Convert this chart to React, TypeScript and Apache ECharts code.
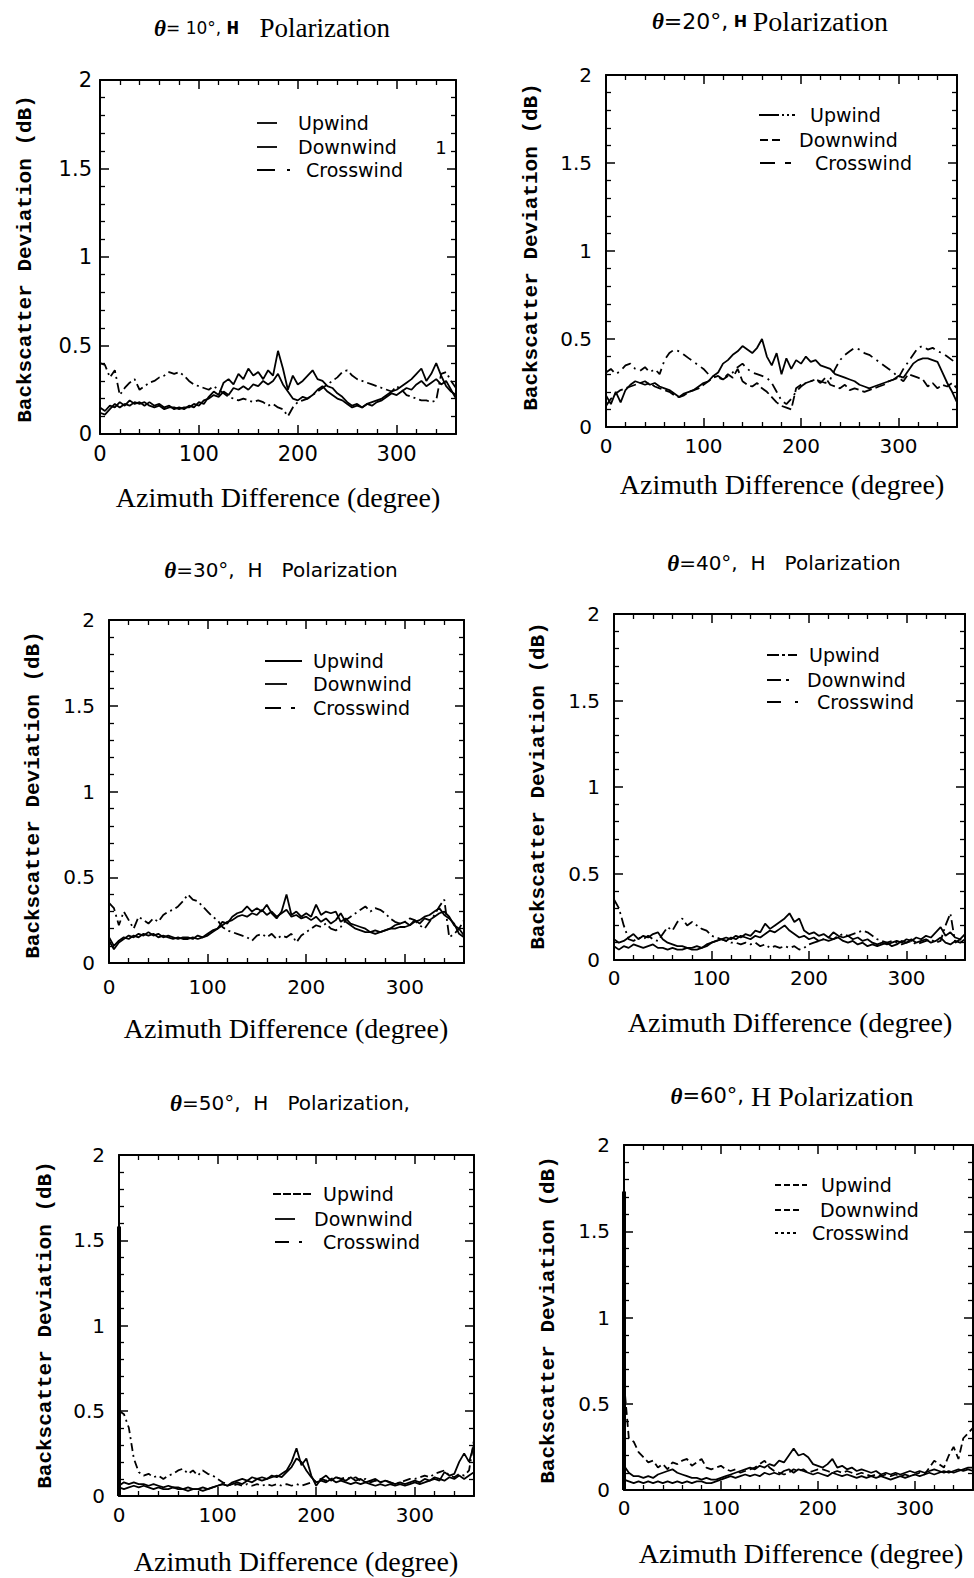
import React, { useEffect, useRef } from "react";
import * as echarts from "echarts";

// Azimuth difference grid (degree)
const AZ = [0,5,10,15,20,25,30,35,40,45,50,55,60,65,70,75,80,85,90,95,100,105,110,115,120,125,130,135,140,145,150,155,160,165,170,175,180,185,190,195,200,205,210,215,220,225,230,235,240,245,250,255,260,265,270,275,280,285,290,295,300,305,310,315,320,325,330,335,340,345,350,355,360];
const X_TICKS = [0, 100, 200, 300];
const Y_TICKS = [0, 0.5, 1, 1.5, 2];
const SERIES_NAMES = ["Upwind", "Downwind", "Crosswind"];

// theta = 10
const P1_UP = [0.15,0.13,0.16,0.15,0.18,0.16,0.19,0.17,0.18,0.16,0.18,0.16,
0.17,0.15,0.16,0.14,0.15,0.14,0.16,0.15,0.18,0.17,0.21,0.24,
0.22,0.29,0.31,0.28,0.34,0.31,0.37,0.33,0.35,0.31,0.36,0.33,
0.47,0.37,0.25,0.33,0.28,0.30,0.33,0.36,0.31,0.30,0.27,0.26,
0.23,0.21,0.18,0.16,0.17,0.15,0.17,0.18,0.19,0.20,0.22,0.24,
0.25,0.27,0.29,0.31,0.34,0.37,0.30,0.34,0.40,0.33,0.27,0.24,
0.22];
const P1_DOWN = [0.12,0.11,0.14,0.17,0.15,0.17,0.16,0.18,0.17,0.18,0.16,0.15,
0.16,0.14,0.15,0.15,0.14,0.15,0.15,0.17,0.16,0.19,0.20,0.22,
0.21,0.24,0.22,0.26,0.25,0.27,0.25,0.28,0.27,0.30,0.28,0.30,
0.34,0.28,0.24,0.20,0.19,0.21,0.20,0.22,0.25,0.27,0.24,0.22,
0.20,0.19,0.17,0.15,0.16,0.15,0.17,0.16,0.18,0.19,0.21,0.23,
0.22,0.24,0.26,0.25,0.28,0.30,0.27,0.29,0.31,0.28,0.30,0.25,
0.20];
const P1_CROSS = [0.40,0.39,0.32,0.36,0.22,0.26,0.29,0.31,0.25,0.27,0.29,0.30,
0.32,0.33,0.35,0.34,0.35,0.33,0.30,0.28,0.27,0.26,0.25,0.27,
0.25,0.23,0.21,0.20,0.19,0.20,0.19,0.18,0.19,0.18,0.16,0.17,
0.15,0.14,0.10,0.15,0.18,0.19,0.20,0.22,0.24,0.26,0.28,0.30,
0.32,0.35,0.36,0.33,0.31,0.30,0.29,0.28,0.27,0.26,0.25,0.24,
0.27,0.25,0.22,0.21,0.20,0.19,0.19,0.18,0.19,0.34,0.35,0.30,
0.26];

// theta = 20
const P2_UP = [0.18,0.13,0.20,0.14,0.21,0.24,0.26,0.25,0.26,0.24,0.25,0.23,
0.22,0.21,0.19,0.17,0.19,0.20,0.21,0.23,0.25,0.26,0.29,0.31,
0.36,0.38,0.41,0.43,0.46,0.44,0.42,0.45,0.50,0.40,0.35,0.42,
0.30,0.39,0.33,0.38,0.36,0.40,0.37,0.38,0.35,0.34,0.33,0.30,
0.29,0.28,0.27,0.26,0.24,0.23,0.22,0.23,0.24,0.25,0.26,0.27,
0.29,0.28,0.32,0.36,0.38,0.39,0.39,0.38,0.37,0.31,0.25,0.20,
0.14];
const P2_DOWN = [0.12,0.16,0.19,0.21,0.22,0.23,0.24,0.25,0.24,0.25,0.23,0.22,
0.21,0.20,0.18,0.17,0.18,0.20,0.21,0.22,0.24,0.26,0.28,0.29,
0.27,0.30,0.28,0.33,0.26,0.24,0.23,0.25,0.22,0.20,0.17,0.14,
0.12,0.11,0.10,0.22,0.24,0.25,0.26,0.27,0.25,0.28,0.24,0.23,
0.22,0.24,0.21,0.22,0.21,0.20,0.21,0.22,0.23,0.24,0.26,0.27,
0.28,0.26,0.30,0.29,0.28,0.27,0.23,0.25,0.22,0.24,0.23,0.25,
0.22];
const P2_CROSS = [0.31,0.33,0.30,0.32,0.35,0.36,0.33,0.32,0.34,0.31,0.33,0.30,
0.38,0.42,0.44,0.43,0.41,0.39,0.37,0.35,0.33,0.30,0.29,0.28,
0.27,0.29,0.31,0.34,0.36,0.33,0.31,0.30,0.29,0.28,0.25,0.20,
0.15,0.13,0.16,0.20,0.23,0.25,0.26,0.27,0.26,0.25,0.27,0.33,
0.38,0.41,0.43,0.45,0.44,0.42,0.41,0.39,0.37,0.35,0.33,0.31,
0.28,0.33,0.37,0.41,0.45,0.46,0.44,0.45,0.43,0.42,0.40,0.38,
0.36];

// theta = 30
const P3_UP = [0.15,0.10,0.13,0.15,0.14,0.16,0.15,0.17,0.16,0.17,0.15,0.16,
0.15,0.14,0.15,0.14,0.14,0.15,0.14,0.15,0.16,0.18,0.20,0.24,
0.23,0.27,0.29,0.30,0.33,0.30,0.32,0.30,0.34,0.29,0.26,0.30,
0.40,0.28,0.30,0.27,0.29,0.27,0.34,0.28,0.30,0.29,0.30,0.24,
0.26,0.23,0.22,0.21,0.20,0.18,0.19,0.18,0.19,0.20,0.20,0.21,
0.21,0.22,0.24,0.25,0.27,0.28,0.30,0.32,0.28,0.26,0.23,0.17,
0.15];
const P3_DOWN = [0.13,0.08,0.12,0.14,0.16,0.15,0.17,0.16,0.18,0.16,0.17,0.15,
0.16,0.15,0.14,0.15,0.15,0.14,0.16,0.15,0.17,0.19,0.20,0.22,
0.24,0.25,0.27,0.28,0.27,0.29,0.28,0.31,0.28,0.30,0.27,0.29,
0.31,0.27,0.28,0.26,0.27,0.25,0.27,0.24,0.26,0.23,0.25,0.29,
0.24,0.22,0.20,0.19,0.18,0.18,0.17,0.18,0.19,0.20,0.22,0.23,
0.24,0.22,0.25,0.23,0.26,0.25,0.27,0.29,0.30,0.27,0.22,0.20,
0.16];
const P3_CROSS = [0.35,0.32,0.22,0.30,0.25,0.20,0.27,0.25,0.23,0.26,0.24,0.28,
0.30,0.31,0.33,0.36,0.40,0.37,0.36,0.33,0.30,0.27,0.25,0.21,
0.19,0.18,0.17,0.16,0.15,0.13,0.16,0.17,0.15,0.17,0.14,0.16,
0.15,0.17,0.12,0.16,0.18,0.20,0.22,0.21,0.23,0.20,0.19,0.21,
0.25,0.27,0.29,0.31,0.33,0.30,0.32,0.31,0.29,0.26,0.24,0.23,
0.24,0.26,0.25,0.22,0.20,0.24,0.28,0.33,0.37,0.15,0.17,0.20,
0.25];

// theta = 40
const P4_UP = [0.12,0.10,0.11,0.13,0.15,0.12,0.14,0.13,0.15,0.16,0.12,0.10,
0.09,0.08,0.08,0.07,0.07,0.08,0.07,0.08,0.10,0.11,0.12,0.13,
0.12,0.14,0.13,0.15,0.14,0.17,0.16,0.21,0.18,0.20,0.22,0.24,
0.27,0.22,0.24,0.17,0.15,0.16,0.14,0.15,0.13,0.16,0.14,0.13,
0.14,0.12,0.13,0.11,0.12,0.10,0.09,0.10,0.09,0.10,0.11,0.10,
0.12,0.11,0.13,0.12,0.14,0.13,0.16,0.19,0.14,0.16,0.13,0.12,
0.15];
const P4_DOWN = [0.08,0.06,0.08,0.07,0.09,0.08,0.07,0.08,0.09,0.07,0.07,0.06,
0.07,0.06,0.06,0.07,0.06,0.06,0.07,0.09,0.10,0.11,0.12,0.11,
0.13,0.12,0.14,0.13,0.12,0.14,0.13,0.15,0.17,0.16,0.18,0.20,
0.17,0.15,0.13,0.14,0.12,0.13,0.11,0.12,0.11,0.12,0.13,0.11,
0.10,0.11,0.09,0.10,0.08,0.09,0.08,0.09,0.10,0.08,0.09,0.11,
0.10,0.12,0.10,0.11,0.12,0.10,0.11,0.13,0.10,0.09,0.11,0.10,
0.12];
const P4_CROSS = [0.35,0.30,0.20,0.12,0.11,0.13,0.12,0.14,0.12,0.11,0.15,0.19,
0.17,0.22,0.24,0.20,0.22,0.20,0.18,0.17,0.14,0.13,0.12,0.11,
0.10,0.10,0.09,0.10,0.09,0.10,0.08,0.09,0.07,0.08,0.07,0.08,
0.07,0.08,0.06,0.07,0.09,0.10,0.11,0.12,0.13,0.12,0.14,0.15,
0.14,0.15,0.16,0.17,0.16,0.14,0.12,0.11,0.10,0.11,0.10,0.09,
0.10,0.11,0.09,0.10,0.11,0.12,0.10,0.11,0.20,0.27,0.10,0.12,
0.10];

// theta = 50
const P5_UP = [0.06,0.08,0.07,0.08,0.07,0.07,0.06,0.07,0.06,0.05,0.06,0.05,
0.05,0.04,0.05,0.04,0.04,0.05,0.04,0.05,0.06,0.07,0.06,0.08,
0.09,0.10,0.09,0.11,0.10,0.11,0.10,0.12,0.11,0.13,0.15,0.20,
0.28,0.18,0.22,0.12,0.06,0.10,0.12,0.09,0.11,0.10,0.09,0.11,
0.09,0.10,0.08,0.09,0.10,0.08,0.09,0.08,0.07,0.08,0.07,0.08,
0.09,0.08,0.10,0.09,0.11,0.10,0.09,0.11,0.10,0.12,0.10,0.12,
0.14];
const P5_DOWN = [0.05,0.04,0.05,0.06,0.05,0.06,0.05,0.04,0.05,0.04,0.04,0.05,
0.04,0.04,0.03,0.04,0.04,0.03,0.04,0.05,0.06,0.07,0.06,0.07,
0.08,0.07,0.09,0.08,0.10,0.09,0.10,0.11,0.12,0.11,0.14,0.17,
0.22,0.20,0.15,0.11,0.08,0.09,0.08,0.10,0.08,0.09,0.08,0.07,
0.08,0.07,0.08,0.07,0.06,0.07,0.06,0.07,0.06,0.07,0.06,0.07,
0.08,0.07,0.08,0.09,0.10,0.09,0.14,0.12,0.13,0.20,0.25,0.20,
0.30];
const P5_CROSS_HEAD = [[0, 1.58]];
const P5_CROSS = [0.50,0.48,0.40,0.22,0.14,0.12,0.13,0.11,0.12,0.10,0.12,0.13,
0.15,0.16,0.13,0.15,0.12,0.15,0.13,0.12,0.10,0.08,0.07,0.06,
0.07,0.06,0.07,0.06,0.07,0.06,0.07,0.06,0.07,0.06,0.07,0.06,
0.07,0.06,0.07,0.08,0.09,0.10,0.09,0.10,0.11,0.10,0.11,0.10,
0.11,0.09,0.10,0.08,0.09,0.08,0.09,0.08,0.07,0.08,0.09,0.10,
0.10,0.11,0.12,0.11,0.13,0.14,0.15,0.12,0.11,0.13,0.12,0.15,
0.33];

// theta = 60
const P6_UP = [0.14,0.10,0.08,0.08,0.07,0.08,0.07,0.09,0.10,0.11,0.12,0.10,
0.09,0.08,0.07,0.07,0.06,0.07,0.06,0.06,0.07,0.08,0.09,0.10,
0.11,0.12,0.13,0.12,0.14,0.13,0.15,0.14,0.17,0.16,0.20,0.24,
0.20,0.21,0.19,0.15,0.14,0.13,0.15,0.18,0.13,0.14,0.12,0.13,
0.11,0.12,0.11,0.10,0.11,0.09,0.10,0.09,0.10,0.09,0.10,0.11,
0.10,0.11,0.10,0.11,0.12,0.11,0.10,0.11,0.10,0.11,0.12,0.13,
0.13];
const P6_DOWN = [0.06,0.05,0.04,0.05,0.04,0.05,0.04,0.05,0.04,0.05,0.04,0.05,
0.04,0.05,0.04,0.05,0.05,0.04,0.04,0.05,0.06,0.07,0.08,0.07,
0.08,0.09,0.08,0.09,0.08,0.10,0.09,0.10,0.09,0.11,0.12,0.10,
0.12,0.11,0.10,0.09,0.10,0.09,0.08,0.10,0.09,0.08,0.09,0.08,
0.07,0.08,0.07,0.08,0.07,0.08,0.07,0.06,0.07,0.08,0.07,0.08,
0.09,0.08,0.09,0.10,0.09,0.10,0.11,0.10,0.11,0.12,0.11,0.12,
0.11];
const P6_CROSS_HEAD = [[0, 1.73]];
const P6_CROSS = [0.62,0.30,0.28,0.22,0.19,0.16,0.17,0.13,0.15,0.12,0.16,0.15,
0.17,0.18,0.14,0.16,0.18,0.13,0.12,0.13,0.14,0.12,0.11,0.12,
0.10,0.11,0.12,0.13,0.15,0.17,0.13,0.11,0.10,0.09,0.10,0.12,
0.11,0.12,0.10,0.11,0.12,0.12,0.11,0.10,0.11,0.10,0.11,0.10,
0.09,0.10,0.09,0.08,0.09,0.08,0.09,0.08,0.09,0.08,0.09,0.08,
0.09,0.10,0.09,0.13,0.17,0.15,0.13,0.20,0.25,0.18,0.30,0.33,
0.36];

const SERIF = "'Liberation Serif', 'Times New Roman', serif";
const SANS = "'DejaVu Sans', sans-serif";
const MONO = "'Liberation Mono', 'Courier New', monospace";

type Leg = { y: number; x1: number; x2: number; tx: number; dash: number[] | null };

const PANELS: any[] = [
  {
    grid: [100, 80, 356, 354],
    values: [P1_UP, P1_DOWN, P1_CROSS], head: null,
    dashes: [null, null, [10, 4, 2, 4]],
    tick: 21, yMargin: 8, xMargin: 9,
    yName: [25, 259], xName: [278, 497],
    title: { x: 272, y: 28, text: "{t|θ}{s|= 10°, }{h|H}{p|   Polarization}", sSize: 17, pSize: 27, hFont: MONO, hSize: 21 },
    legend: [
      { y: 123, x1: 257, x2: 277, tx: 298, dash: null },
      { y: 147, x1: 257, x2: 277, tx: 298, dash: null },
      { y: 170, x1: 257, x2: 293, tx: 306, dash: [18, 12, 3, 100] },
    ] as Leg[],
  },
  {
    grid: [606, 75, 351, 352],
    values: [P2_UP, P2_DOWN, P2_CROSS], head: null,
    dashes: [null, [10, 4], [10, 5, 2, 5]],
    tick: 20, yMargin: 14, xMargin: 9,
    yName: [531, 247], xName: [782, 484],
    title: { x: 770, y: 21, text: "{t|θ}{s|=20°,}{h| H }{p|Polarization}", sSize: 22, pSize: 28, hFont: SANS, hSize: 16 },
    legend: [
      { y: 115, x1: 759, x2: 795, tx: 810, dash: [20, 3, 2, 3, 2, 3] },
      { y: 140, x1: 760, x2: 780, tx: 799, dash: [8, 4] },
      { y: 163, x1: 760, x2: 799, tx: 815, dash: [15, 10, 6, 100] },
    ] as Leg[],
  },
  {
    grid: [109, 620, 355, 343],
    values: [P3_UP, P3_DOWN, P3_CROSS], head: null,
    dashes: [null, null, [10, 4, 2, 4]],
    tick: 20, yMargin: 14, xMargin: 14,
    yName: [33, 795], xName: [286, 1028],
    title: { x: 281, y: 570, text: "{t|θ}{s|=30°,  H   Polarization}", sSize: 20 },
    legend: [
      { y: 661, x1: 265, x2: 302, tx: 313, dash: null },
      { y: 684, x1: 265, x2: 287, tx: 313, dash: null },
      { y: 708, x1: 265, x2: 305, tx: 313, dash: [16, 10, 4, 100] },
    ] as Leg[],
  },
  {
    grid: [614, 614, 351, 346],
    values: [P4_UP, P4_DOWN, P4_CROSS], head: null,
    dashes: [null, null, [10, 4, 2, 4]],
    tick: 20, yMargin: 14, xMargin: 8,
    yName: [538, 786], xName: [790, 1022],
    title: { x: 784, y: 563, text: "{t|θ}{s|=40°,  H   Polarization}", sSize: 20 },
    legend: [
      { y: 655, x1: 767, x2: 797, tx: 809, dash: [12, 3, 3, 3] },
      { y: 680, x1: 767, x2: 790, tx: 807, dash: [14, 5, 3, 100] },
      { y: 702, x1: 767, x2: 800, tx: 817, dash: [14, 14, 3, 100] },
    ] as Leg[],
  },
  {
    grid: [119, 1155, 355, 341],
    values: [P5_UP, P5_DOWN, P5_CROSS], head: P5_CROSS_HEAD,
    dashes: [null, null, [8, 4, 2, 4]],
    tick: 20, yMargin: 14, xMargin: 9,
    yName: [45, 1325], xName: [296, 1561],
    title: { x: 290, y: 1103, text: "{t|θ}{s|=50°,  H   Polarization,}", sSize: 20 },
    legend: [
      { y: 1194, x1: 273, x2: 312, tx: 323, dash: [8, 2] },
      { y: 1219, x1: 275, x2: 295, tx: 314, dash: null },
      { y: 1242, x1: 275, x2: 312, tx: 323, dash: [14, 10, 3, 100] },
    ] as Leg[],
  },
  {
    grid: [624, 1145, 349, 345],
    values: [P6_UP, P6_DOWN, P6_CROSS], head: P6_CROSS_HEAD,
    dashes: [null, null, [8, 4]],
    tick: 20, yMargin: 14, xMargin: 8,
    yName: [548, 1320], xName: [801, 1553],
    title: { x: 792, y: 1096, text: "{t|θ}{s|=60°,}{p| H Polarization}", sSize: 21, pSize: 28 },
    legend: [
      { y: 1185, x1: 775, x2: 807, tx: 821, dash: [6, 3] },
      { y: 1210, x1: 775, x2: 799, tx: 820, dash: [6, 3] },
      { y: 1233, x1: 775, x2: 797, tx: 812, dash: [3, 3] },
    ] as Leg[],
  },
];

function text(x: number, y: number, style: any, extra: any = {}) {
  return {
    type: "text",
    x,
    y,
    silent: true,
    ...extra,
    style: {
      fill: "#000",
      align: "center",
      verticalAlign: "middle",
      textAlign: "center",
      textVerticalAlign: "middle",
      ...style,
    },
  };
}

export default function App() {
  const ref = useRef<HTMLDivElement>(null);
  useEffect(() => {
    if (!ref.current) return;
    const chart = echarts.init(ref.current, null, { renderer: "svg" });
    const grids: any[] = [];
    const xAxes: any[] = [];
    const yAxes: any[] = [];
    const series: any[] = [];
    const graphics: any[] = [];
    const axisLine = { show: true, onZero: false, lineStyle: { color: "#000", width: 2 } };
    const axisTick = { show: true, inside: true, length: 9, lineStyle: { color: "#000", width: 1.5 } };
    const minorTick = { show: true, splitNumber: 5, length: 5, lineStyle: { color: "#000", width: 1.3 } };

    PANELS.forEach((p, i) => {
      grids.push({ left: p.grid[0], top: p.grid[1], width: p.grid[2], height: p.grid[3], containLabel: false });
      const xBase = {
        gridIndex: i, type: "value", min: 0, max: 360, interval: 100,
        axisLine, axisTick, minorTick,
        splitLine: { show: false }, minorSplitLine: { show: false },
      };
      xAxes.push({
        ...xBase, position: "bottom",
        axisLabel: {
          show: true, color: "#000", fontFamily: SANS, fontSize: p.tick, margin: p.xMargin,
          showMaxLabel: false,
          formatter: (v: number) => (X_TICKS.includes(v) ? String(v) : ""),
        },
      });
      xAxes.push({ ...xBase, position: "top", axisLabel: { show: false } });
      const yBase = {
        gridIndex: i, type: "value", min: 0, max: 2, interval: 0.5,
        axisLine, axisTick, minorTick,
        splitLine: { show: false }, minorSplitLine: { show: false },
      };
      yAxes.push({
        ...yBase, position: "left",
        axisLabel: {
          show: true, color: "#000", fontFamily: SANS, fontSize: p.tick, margin: p.yMargin,
          formatter: (v: number) => (Y_TICKS.some((t) => Math.abs(t - v) < 1e-9) ? String(v) : ""),
        },
      });
      yAxes.push({ ...yBase, position: "right", axisLabel: { show: false } });

      p.values.forEach((vals: number[], k: number) => {
        const n = Math.min(vals.length, AZ.length);
        const data: any[] = [];
        for (let j = 0; j < n; j++) data.push([AZ[j], vals[j]]);
        series.push({
          type: "line",
          name: SERIES_NAMES[k],
          xAxisIndex: 2 * i,
          yAxisIndex: 2 * i,
          data,
          symbol: "none",
          showSymbol: false,
          silent: true,
          clip: true,
          lineStyle: { color: "#000", width: 1.8, type: p.dashes[k] || "solid" },
        });
        if (k === 2 && p.head) {
          // the near-zero-azimuth spike of the crosswind curve
          series.push({
            type: "line",
            name: SERIES_NAMES[k],
            xAxisIndex: 2 * i,
            yAxisIndex: 2 * i,
            data: [...p.head, [AZ[0], vals[0]], [AZ[0], 0]],
            symbol: "none",
            showSymbol: false,
            silent: true,
            clip: false,
            z: 5,
            lineStyle: { color: "#000", width: 4, type: "solid" },
          });
        }
      });

      // title
      const t = p.title;
      graphics.push(
        text(t.x, t.y, {
          text: t.text,
          rich: {
            t: { fontFamily: SERIF, fontStyle: "italic", fontWeight: "bold", fontSize: 23, fill: "#000" },
            s: { fontFamily: SANS, fontSize: t.sSize, fill: "#000" },
            h: { fontFamily: t.hFont || SANS, fontWeight: "bold", fontSize: t.hSize || 20, fill: "#000" },
            p: { fontFamily: SERIF, fontSize: t.pSize || 28, fill: "#000" },
          },
        })
      );
      // axis names
      graphics.push(
        text(p.yName[0], p.yName[1], {
          text: "Backscatter Deviation (dB)", fontFamily: MONO, fontWeight: "bold", fontSize: 21,
        }, { rotation: Math.PI / 2 })
      );
      graphics.push(
        text(p.xName[0], p.xName[1], {
          text: "Azimuth Difference (degree)", fontFamily: SERIF, fontSize: 28,
        })
      );
      // legend
      (p.legend as Leg[]).forEach((l, k) => {
        graphics.push({
          type: "line",
          silent: true,
          shape: { x1: l.x1, y1: l.y, x2: l.x2, y2: l.y },
          style: { stroke: "#000", lineWidth: 1.8, lineDash: l.dash || undefined },
        });
        graphics.push(
          text(l.tx, l.y, {
            text: SERIES_NAMES[k], fontFamily: SANS, fontSize: 19,
            align: "left", textAlign: "left",
          })
        );
      });
    });

    // stray mark from the scanned original
    graphics.push(text(441, 147, { text: "1", fontFamily: SANS, fontSize: 18 }));

    chart.setOption({
      animation: false,
      backgroundColor: "#fff",
      grid: grids,
      xAxis: xAxes,
      yAxis: yAxes,
      series,
      graphic: { elements: graphics },
    });
    return () => chart.dispose();
  }, []);
  return (
    <div
      ref={ref}
      style={{ position: "absolute", left: 0, top: 0, width: 974, height: 1578, background: "#fff" }}
    />
  );
}
